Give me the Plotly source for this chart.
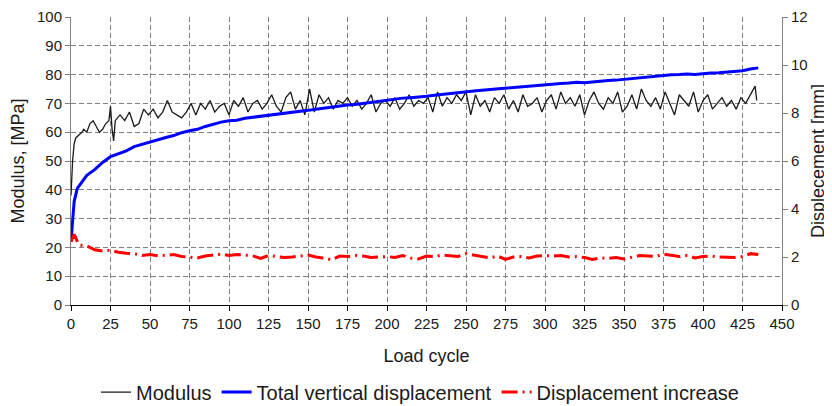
import plotly.graph_objects as go

# Modulus [MPa] (left axis)
mod_cycle = [0, 1, 2, 3, 5, 7, 8, 10, 12, 14, 16, 18, 20, 22, 24, 25, 26, 27, 28] + list(range(31, 434, 3)) + [434]
modulus = [38, 50, 56, 58, 59, 60, 61, 60, 63, 64, 62, 60, 61, 63, 64, 69, 61, 57, 64,
           66, 64, 67, 62, 63, 68, 66,
           68, 65, 67, 71, 67, 66, 65, 67,
           70, 66, 70, 68, 71, 67, 69, 70,
           66, 71, 69, 72, 67, 70, 71, 68,
           70, 73, 69, 67, 72, 74, 68, 71, 66,
           75, 67, 73, 70, 72, 68, 71, 70,
           72, 69, 71, 68, 70, 73, 67, 70,
           71, 69, 72, 68, 70, 73, 69, 71,
           70, 72, 67, 74, 69, 72, 70, 73,
           71, 74, 66, 73, 69, 71, 67, 72,
           70, 73, 68, 71, 67, 73, 69, 70,
           72, 67, 71, 73, 68, 74, 70, 72,
           69, 73, 66, 71, 74, 70, 68, 72,
           70, 74, 67, 69, 73, 68, 75, 71,
           69, 72, 68, 74, 70, 66, 73, 71,
           69, 74, 67, 71, 73, 68, 70, 72,
           69, 71, 68, 72, 70, 73, 76,
           71]

# Total vertical displacement [mm] (right axis)
disp_cycle = [0, 1, 2, 4, 6, 8] + list(range(10, 436, 5))
total_disp = [2.64, 3.6, 4.32, 4.86, 5.04, 5.22,
              5.4, 5.64, 5.94, 6.18, 6.3, 6.42, 6.6, 6.7, 6.78, 6.9,
              6.98, 7.06, 7.18, 7.26, 7.32, 7.44, 7.54, 7.62, 7.68, 7.7,
              7.78, 7.82, 7.86, 7.9, 7.92, 7.98, 8.02, 8.06, 8.11, 8.16,
              8.21, 8.23, 8.28, 8.33, 8.35, 8.4, 8.45, 8.5, 8.54, 8.57,
              8.62, 8.64, 8.66, 8.7, 8.74, 8.78, 8.82, 8.87, 8.9, 8.92,
              8.95, 8.98, 9.0, 9.04, 9.06, 9.1, 9.13, 9.17, 9.2, 9.22,
              9.23, 9.25, 9.28, 9.26, 9.3, 9.32, 9.35, 9.37, 9.4, 9.46,
              9.48, 9.5, 9.53, 9.55, 9.59, 9.6, 9.62, 9.6, 9.65, 9.67,
              9.68, 9.71, 9.73, 9.76, 9.83, 9.88]

# Displacement increase [mm] (right axis)
inc_cycle = [0, 2] + list(range(5, 436, 5))
disp_increase = [2.64, 2.94,
                 2.5, 2.46, 2.3, 2.25, 2.28, 2.2, 2.16, 2.14, 2.06, 2.1,
                 2.05, 2.08, 2.1, 2.02, 1.98, 1.96, 2.04, 2.08, 2.12, 2.06,
                 2.1, 2.08, 2.05, 1.94, 2.06, 2.02, 1.98, 2.0, 2.04, 2.08,
                 2.0, 1.96, 1.88, 2.04, 2.02, 2.06, 2.04, 1.98, 2.0, 2.02,
                 1.98, 2.06, 1.96, 1.92, 2.04, 2.02, 2.08, 2.06, 2.02, 2.14,
                 2.08, 2.04, 1.96, 2.04, 1.9, 2.0, 2.02, 1.96, 2.04, 2.06,
                 2.04, 2.06, 2.0, 2.02, 1.98, 1.9, 1.96, 1.94, 1.98, 1.92,
                 2.0, 2.06, 2.04, 2.02, 2.12, 2.08, 2.02, 2.06, 1.96, 2.02,
                 2.04, 2.0, 1.98, 1.98, 2.02, 2.14, 2.1]

font = "Liberation Sans, Arial, sans-serif"
ink = "#1a1a1a"

fig = go.Figure()
fig.add_trace(go.Scatter(x=mod_cycle, y=modulus, name="Modulus", mode="lines",
                         line=dict(color="#1a1a1a", width=1.3)))
fig.add_trace(go.Scatter(x=disp_cycle, y=total_disp, name="Total vertical displacement", mode="lines",
                         line=dict(color="#0000ff", width=3), yaxis="y2"))
fig.add_trace(go.Scatter(x=inc_cycle, y=disp_increase, name="Displacement increase", mode="lines",
                         line=dict(color="#ff0000", width=3, dash="16px,5px,2px,5px"), yaxis="y2"))

# page body adds an 8px margin, so the figure is sized to fit inside the window
fig.update_layout(
    width=824, height=398,
    margin=dict(l=63, r=50, t=9, b=101),
    paper_bgcolor="white", plot_bgcolor="white",
    font=dict(family=font, size=15, color=ink),
    showlegend=True,
    legend=dict(orientation="h", x=0.5, xanchor="center", xref="container",
                y=0.035, yanchor="middle", yref="container",
                font=dict(size=20), itemwidth=30, tracegroupgap=0),
    xaxis=dict(range=[0, 450], tick0=0, dtick=25, showgrid=True, gridcolor="#808080",
               griddash="5px,3px", gridwidth=1, zeroline=False, automargin=False,
               showline=True, linecolor="#000000", linewidth=1,
               ticks="outside", ticklen=5, tickcolor="#000000",
               title=dict(text="Load cycle", font=dict(size=18), standoff=18)),
    yaxis=dict(range=[0, 100], dtick=10, showgrid=True, gridcolor="#808080",
               griddash="5px,3px", gridwidth=1, zeroline=False, automargin=False,
               showline=True, linecolor="#808080", linewidth=1,
               ticks="outside", ticklen=5, tickcolor="#808080", ticklabeloverflow="allow",
               title=dict(text="Modulus, [MPa]", font=dict(size=18), standoff=18)),
    yaxis2=dict(range=[0, 12], dtick=2, overlaying="y", side="right", showgrid=False,
                zeroline=False, automargin=False, showline=True, linecolor="#808080", linewidth=1,
                ticks="outside", ticklen=5, tickcolor="#808080", ticklabeloverflow="allow",
                title=dict(text="Displecement [mm]", font=dict(size=18), standoff=4)),
)

fig.write_html("out.html")
